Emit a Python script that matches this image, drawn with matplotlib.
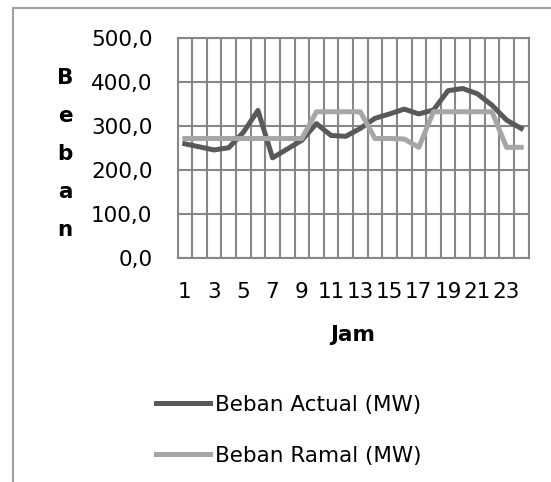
import matplotlib.pyplot as plt
from matplotlib.lines import Line2D

jam = list(range(1, 25))
beban_actual = [259, 252, 245, 250, 285, 335, 227, 247, 267, 305, 278, 276,
                294, 317, 327, 338, 327, 336, 380, 385, 373, 347, 313, 294]
beban_ramal = [271, 271, 271, 271, 271, 271, 271, 271, 271, 332, 332, 332,
               332, 271, 271, 270, 251, 332, 332, 332, 332, 332, 251, 251]
y_ticks = [0, 100, 200, 300, 400, 500]
x_labels = [str(j) if j % 2 == 1 else "" for j in jam]

W, H = 551, 482
FS = 15.5
plt.rcParams['font.family'] = ['DejaVu Sans']
fig = plt.figure(figsize=(W / 100, H / 100), dpi=100)

# outer chart border
fig.add_artist(Line2D([13 / W, 13 / W], [0, 1 - 8 / H], color="#a0a0a0", lw=1.5))
fig.add_artist(Line2D([13 / W, 1], [1 - 8 / H, 1 - 8 / H], color="#a0a0a0", lw=1.5))

ax = fig.add_axes([177.5 / W, (H - 257.5) / H, 351 / W, 219.5 / H])
grid_c = "#878787"
ax.plot(jam, beban_actual, color="#595959", lw=3.6, label="Beban Actual (MW)",
        solid_joinstyle="round", zorder=3)
ax.plot(jam, beban_ramal, color="#a6a6a6", lw=3.6, label="Beban Ramal (MW)",
        solid_joinstyle="round", zorder=3)

ax.set_xlim(0.5, 24.5)
ax.set_ylim(0, 500)
ax.set_xticks(jam)
ax.set_xticklabels(x_labels, fontsize=FS)
ax.set_xticks([j + 0.5 for j in range(0, 25)], minor=True)
ax.set_yticks(y_ticks)
ax.set_yticklabels([f"{v:.1f}".replace(".", ",") for v in y_ticks], fontsize=FS)
ax.tick_params(which="both", length=0)
ax.tick_params(axis="y", pad=18)
ax.tick_params(axis="x", pad=18)
ax.grid(True, axis="y", which="major", color=grid_c, lw=1.5)
ax.grid(True, axis="x", which="minor", color=grid_c, lw=1.5)
for s in ax.spines.values():
    s.set_color(grid_c)
    s.set_linewidth(1.5)

ax.set_xlabel("Jam", fontsize=FS, fontweight="bold", labelpad=16)
fig.text(65 / W, 1 - 154 / H, "B\ne\nb\na\nn", fontsize=FS, fontweight="bold",
         ha="center", va="center", linespacing=2.12)

fig.legend(loc="upper left", bbox_to_anchor=(156 / W, 1 - 395 / H), frameon=False,
           fontsize=FS, handlelength=2.5, handletextpad=0.23, labelspacing=1.43,
           borderpad=0, borderaxespad=0)

fig.savefig("out.png", dpi=100)
